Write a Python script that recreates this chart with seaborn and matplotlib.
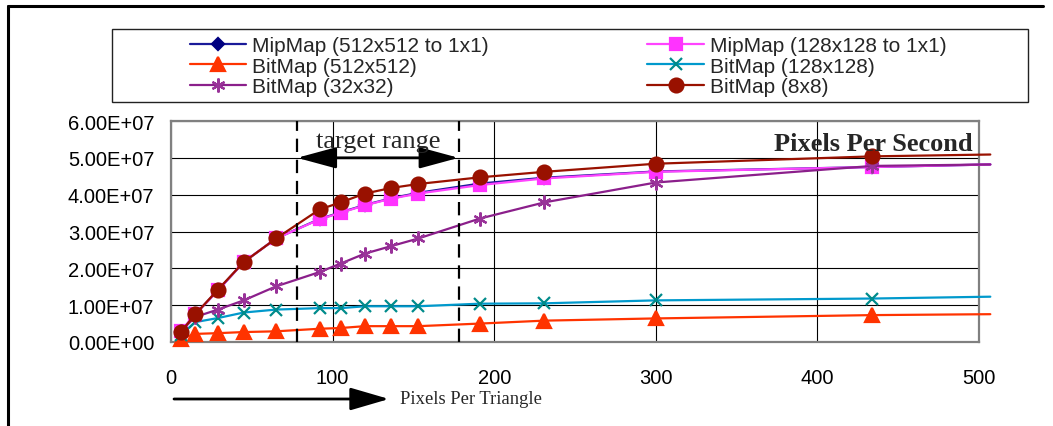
import matplotlib
matplotlib.use("Agg")
import matplotlib.pyplot as plt
from matplotlib.lines import Line2D
from matplotlib.patches import Rectangle
from matplotlib.ticker import FuncFormatter
import seaborn as sns

# pixels per triangle (last value is where the lines run off past the frame)
ppt = [6, 15, 29, 45, 65, 92, 105, 120, 136, 153, 191, 231, 300, 434, 507]

# pixels per second, in units of 1e7
mip512 = [0.28, 0.75, 1.40, 2.17, 2.81, 3.34, 3.52, 3.72, 3.90, 4.05, 4.30, 4.46, 4.63, 4.75, 4.82]
mip128 = [0.29, 0.75, 1.40, 2.17, 2.81, 3.33, 3.51, 3.71, 3.89, 4.03, 4.26, 4.44, 4.62, 4.75, 4.82]
bit512 = [0.09, 0.22, 0.24, 0.27, 0.29, 0.36, 0.38, 0.43, 0.43, 0.43, 0.50, 0.58, 0.64, 0.73, 0.755]
bit128 = [0.18, 0.54, 0.65, 0.80, 0.88, 0.92, 0.92, 0.97, 0.97, 0.97, 1.04, 1.05, 1.13, 1.18, 1.23]
bit32 = [0.29, 0.68, 0.88, 1.13, 1.51, 1.90, 2.13, 2.40, 2.60, 2.81, 3.35, 3.79, 4.33, 4.78, 4.82]
bit8 = [0.27, 0.75, 1.42, 2.17, 2.81, 3.60, 3.79, 4.03, 4.18, 4.29, 4.47, 4.62, 4.84, 5.04, 5.09]

labels = ["MipMap (512x512 to 1x1)", "MipMap (128x128 to 1x1)", "BitMap (512x512)",
          "BitMap (128x128)", "BitMap (32x32)", "BitMap (8x8)"]
yticks = [0, 1e7, 2e7, 3e7, 4e7, 5e7, 6e7]
xticks = [0, 100, 200, 300, 400, 500]
target = [78, 178]

sns.set_theme(style="white")
plt.rcParams['font.family'] = ['Liberation Sans', 'DejaVu Sans']

# line colour, marker, size, face, edge
styles = [
    ("#1a1a99", "D", 6, "#000080", "#000080"),
    ("#ff44ff", "s", 8, "#ff33ff", "#ff33ff"),
    ("#ff3300", "^", 9.5, "#ff3300", "#ff3300"),
    ("#0099cc", "x", 9, "#008b8b", "#008b8b"),
    ("#8b1f8b", (6, 2, 0), 10, "#993399", "#993399"),
    ("#991100", "o", 10, "#991100", "#991100"),
]
series = [mip512, mip128, bit512, bit128, bit32, bit8]

fig = plt.figure(figsize=(10.53, 4.27), dpi=100)
ax = fig.add_axes([171 / 1053, 1 - 343 / 427, 808 / 1053, 221 / 427])

n = len(ppt)
handles = []
for vals, (lc, mk, ms, fc, ec), lab in zip(series, styles, labels):
    yv = [v * 1e7 for v in vals]
    sns.lineplot(x=ppt, y=yv, ax=ax, color=lc, linewidth=1.6, marker=mk,
                 markersize=ms, markerfacecolor=fc, markeredgecolor=ec,
                 markeredgewidth=1.6, markevery=list(range(n - 1)),
                 clip_on=False, legend=False, zorder=3)
    handles.append(Line2D([], [], color=lc, linewidth=1.6, marker=mk, markersize=ms,
                          markerfacecolor=fc, markeredgecolor=ec, markeredgewidth=1.6))

ax.set_xlim(0, 500)
ax.set_ylim(0, 6e7)
ax.set_xticks(xticks)
ax.set_yticks(yticks)
ax.yaxis.set_major_formatter(FuncFormatter(lambda v, p: f"{v:.2E}"))
ax.tick_params(axis="both", direction="out", length=4, width=1, color="#555555",
               labelsize=14.5, labelcolor="black")
ax.tick_params(axis="y", pad=8)
ax.tick_params(axis="x", pad=15)
ax.grid(True, color="black", linewidth=0.8)
for s in ax.spines.values():
    s.set_color("#808080")
    s.set_linewidth(1.6)
ax.set_xlabel("")
ax.set_ylabel("")

# target range markers
for t in target:
    ax.axvline(t, color="black", linewidth=1.6, linestyle=(0, (6, 3.5)), zorder=4)
ax.annotate("", xy=(target[1], 5e7), xytext=(target[0], 5e7),
            arrowprops=dict(arrowstyle="<|-|>,head_length=2.4,head_width=0.65",
                            mutation_scale=10, lw=2, color="black",
                            shrinkA=0, shrinkB=0), zorder=5)
ax.text(128, 5.3e7, "target range", family="Liberation Serif", fontsize=19,
        ha="center", va="baseline", zorder=5)
ax.text(496, 5.22e7, "Pixels Per Second", family="Liberation Serif", fontsize=19,
        fontweight="bold", ha="right", va="baseline", zorder=5)

# x axis caption with arrow
ax.annotate("", xy=(389 / 1053, 1 - 400 / 427), xytext=(174 / 1053, 1 - 400 / 427),
            xycoords="figure fraction", textcoords="figure fraction",
            arrowprops=dict(arrowstyle="-|>,head_length=2.4,head_width=0.7",
                            mutation_scale=10, lw=2, color="black",
                            shrinkA=0, shrinkB=0), annotation_clip=False)
fig.text(400 / 1053, 1 - 400 / 427, "Pixels Per Triangle", family="Liberation Serif",
         fontsize=13.4, ha="left", va="center")

# legend, frame drawn separately
order = [0, 2, 4, 1, 3, 5]
fig.legend([handles[i] for i in order], [labels[i] for i in order], ncol=2,
           loc="upper left", bbox_to_anchor=(190 / 1053, 1 - 37 / 427),
           frameon=False, fontsize=15, borderpad=0, borderaxespad=0,
           handlelength=2.7, handletextpad=0.3, columnspacing=7.6,
           labelspacing=0.08)
fig.add_artist(Rectangle((112 / 1053, 1 - 103 / 427), 916 / 1053, 73 / 427,
                         transform=fig.transFigure, fill=False,
                         edgecolor="#222222", linewidth=1))

# outer frame (top and left)
fig.add_artist(Line2D([8 / 1053, 1043 / 1053], [1 - 7 / 427, 1 - 7 / 427],
                      transform=fig.transFigure, color="black", linewidth=2.2))
fig.add_artist(Line2D([8 / 1053, 8 / 1053], [0, 1 - 7 / 427],
                      transform=fig.transFigure, color="black", linewidth=2.2))

fig.savefig("out.png", dpi=100)
